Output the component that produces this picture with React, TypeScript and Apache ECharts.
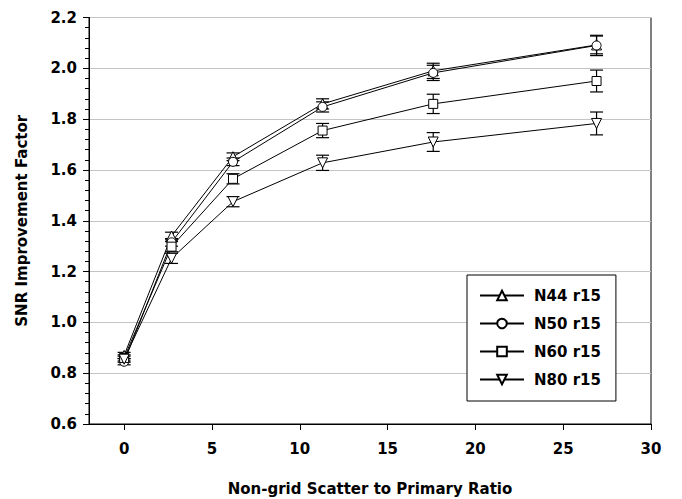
import React, { useEffect, useRef } from "react";
import * as echarts from "echarts";

const xValues = [0, 2.7, 6.2, 11.3, 17.6, 26.9];
const seriesNames = ["N44 r15", "N50 r15", "N60 r15", "N80 r15"];
const n44 = [0.87, 1.34, 1.652, 1.86, 1.99, 2.092];
const n50 = [0.845, 1.315, 1.632, 1.848, 1.982, 2.09];
const n60 = [0.86, 1.298, 1.565, 1.755, 1.86, 1.95];
const n80 = [0.855, 1.252, 1.475, 1.628, 1.71, 1.783];
const n44Err = [0.012, 0.015, 0.015, 0.02, 0.03, 0.035];
const n50Err = [0.012, 0.015, 0.015, 0.02, 0.03, 0.04];
const n60Err = [0.012, 0.02, 0.02, 0.028, 0.038, 0.043];
const n80Err = [0.012, 0.02, 0.02, 0.03, 0.037, 0.045];
const xTicks = [0, 5, 10, 15, 20, 25, 30];
const symbols = ["triangle", "circle", "rect", "triangle"];
const symbolRotations = [0, 0, 0, 180];
const symbolSizes = [10, 9, 9, 10];

const FONT = "DejaVu Sans";

export default function App() {
  const ref = useRef<HTMLDivElement>(null);
  useEffect(() => {
    document.body.style.margin = "0";
    if (!ref.current) return;
    const chart = echarts.init(ref.current, null, { renderer: "svg" });
    const values = [n44, n50, n60, n80];
    const errs = [n44Err, n50Err, n60Err, n80Err];
    const lineSeries = values.map((vals, i) => ({
      name: seriesNames[i],
      type: "line",
      data: xValues.map((x, j) => [x, vals[j]]),
      symbol: symbols[i],
      symbolRotate: symbolRotations[i],
      symbolSize: symbolSizes[i],
      showAllSymbol: true,
      lineStyle: { color: "#000", width: 1 },
      itemStyle: { color: "#fff", borderColor: "#000", borderWidth: 1 },
      z: 3,
    }));
    const errSeries = values.map((vals, i) => ({
      name: seriesNames[i] + " err",
      type: "custom",
      data: xValues.map((x, j) => [x, vals[j] - errs[i][j], vals[j] + errs[i][j]]),
      encode: { x: 0, y: [1, 2] },
      z: 2,
      renderItem: (params: any, api: any) => {
        const x = api.value(0);
        const lo = api.coord([x, api.value(1)]);
        const hi = api.coord([x, api.value(2)]);
        const w = 6.5;
        const style = { stroke: "#000", lineWidth: 1.2 };
        return {
          type: "group",
          children: [
            { type: "line", shape: { x1: hi[0], y1: hi[1], x2: lo[0], y2: lo[1] }, style },
            { type: "line", shape: { x1: hi[0] - w, y1: hi[1], x2: hi[0] + w, y2: hi[1] }, style },
            { type: "line", shape: { x1: lo[0] - w, y1: lo[1], x2: lo[0] + w, y2: lo[1] }, style },
          ],
        };
      },
    }));
    chart.setOption({
      animation: false,
      backgroundColor: "#fff",
      textStyle: { fontFamily: FONT },
      grid: {
        left: 89,
        right: 31,
        top: 17.5,
        bottom: 75,
        outerBoundsMode: "none",
        containLabel: false,
        show: true,
        borderColor: "#000",
        borderWidth: 1,
        backgroundColor: "transparent",
      },
      legend: {
        data: seriesNames,
        orient: "vertical",
        left: 467,
        top: 275,
        padding: [13, 15, 14, 12],
        itemWidth: 44,
        itemHeight: 12,
        itemGap: 13,
        backgroundColor: "#fff",
        borderColor: "#000",
        borderWidth: 1,
        borderRadius: 0,
        textStyle: {
          fontFamily: FONT,
          fontWeight: "bold",
          fontSize: 15,
          color: "#000",
          padding: [0, 0, 0, 5],
        },
      },
      xAxis: {
        type: "value",
        min: -2,
        max: 30,
        name: "Non-grid Scatter to Primary Ratio",
        nameLocation: "middle",
        nameGap: 57,
        nameTextStyle: { fontFamily: FONT, fontWeight: "bold", fontSize: 15, color: "#000" },
        axisLine: { show: true, onZero: false, lineStyle: { color: "#000", width: 1 } },
        axisTick: { show: true, customValues: xTicks, length: 6, lineStyle: { color: "#000" } },
        axisLabel: {
          customValues: xTicks,
          margin: 17,
          fontFamily: FONT,
          fontWeight: "bold",
          fontSize: 15,
          color: "#000",
        },
        splitLine: { show: false },
      },
      yAxis: [
        {
          type: "value",
          min: 0.6,
          max: 2.2,
          interval: 0.2,
          name: "SNR Improvement Factor",
          nameLocation: "middle",
          nameGap: 60,
          nameTextStyle: { fontFamily: FONT, fontWeight: "bold", fontSize: 15, color: "#000" },
          axisLine: { show: true, onZero: false, lineStyle: { color: "#000", width: 1 } },
          axisTick: { show: true, length: 6, lineStyle: { color: "#000" } },
          minorTick: { show: true, splitNumber: 5, length: 4, lineStyle: { color: "#000" } },
          axisLabel: {
            margin: 12,
            fontFamily: FONT,
            fontWeight: "bold",
            fontSize: 15,
            color: "#000",
            formatter: (v: number) => v.toFixed(1),
          },
          splitLine: { show: true, lineStyle: { color: "#c4c4c4", width: 1 } },
        },
      ],
      series: [...errSeries, ...lineSeries],
    });
    return () => chart.dispose();
  }, []);
  return <div ref={ref} style={{ width: 682, height: 499 }} />;
}
